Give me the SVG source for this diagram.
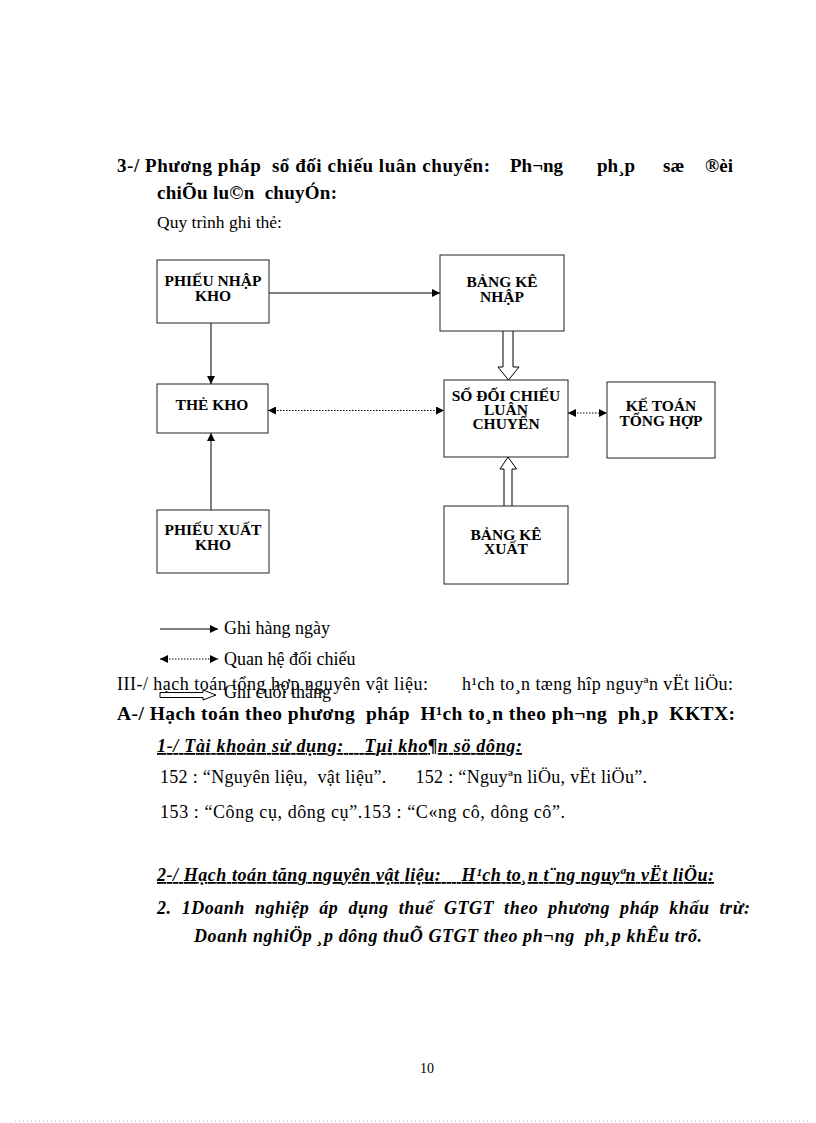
<svg xmlns="http://www.w3.org/2000/svg" width="816" height="1123" viewBox="0 0 816 1123">
<defs>
<style>
.b{font-family:"Liberation Serif","Times New Roman",serif;font-weight:bold;font-size:18px;fill:#000}
.h{font-size:19px}
.r{font-family:"Liberation Serif","Times New Roman",serif;font-size:18px;fill:#000}
.bi{font-family:"Liberation Serif","Times New Roman",serif;font-weight:bold;font-style:italic;font-size:18px;fill:#000}
.u{text-decoration:underline}
.node rect{fill:#fff;stroke:#222;stroke-width:1}
.node text{font-family:"Liberation Serif","Times New Roman",serif;font-weight:bold;font-size:15.5px;fill:#000;text-anchor:middle}
.solid{stroke:#000;stroke-width:1;fill:none}
.dot{stroke:#000;stroke-width:1;fill:none;stroke-dasharray:1.5 1.5}
.hollow{fill:#fff;stroke:#000;stroke-width:1}
</style>
<marker id="ah" viewBox="0 0 10 10" refX="10" refY="5" markerWidth="8" markerHeight="8" markerUnits="userSpaceOnUse" orient="auto">
<path d="M0,0 L10,5 L0,10 z" fill="#000"/>
</marker>
<marker id="ahs" viewBox="0 0 10 10" refX="0" refY="5" markerWidth="8" markerHeight="8" markerUnits="userSpaceOnUse" orient="auto">
<path d="M10,0 L0,5 L10,10 z" fill="#000"/>
</marker>
</defs>
<rect width="816" height="1123" fill="#fff"/>

<g id="header">
<text class="b h" x="117" y="172" style="white-space:pre" textLength="373" lengthAdjust="spacing">3-/ Phương pháp  sổ đối chiếu luân chuyển:</text>
<text class="b h" x="510" y="172">Ph¬ng</text>
<text class="b h" x="597" y="172">ph¸p</text>
<text class="b h" x="663" y="172">sæ</text>
<text class="b h" x="705" y="172">®èi</text>
<text class="b h" x="157" y="199" style="white-space:pre" textLength="180" lengthAdjust="spacing">chiÕu lu©n  chuyÓn:</text>
<text class="r" x="157" y="228" style="font-size:17.5px">Quy trình ghi thẻ:</text>
</g>

<g id="connectors">
<line class="solid" x1="269" y1="293" x2="440" y2="293" marker-end="url(#ah)"/>
<line class="solid" x1="211" y1="323" x2="211" y2="384" marker-end="url(#ah)"/>
<line class="solid" x1="211" y1="510" x2="211" y2="433" marker-end="url(#ah)"/>
<line class="dot" x1="268" y1="410.5" x2="444" y2="410.5" marker-start="url(#ahs)" marker-end="url(#ah)"/>
<line class="dot" x1="568" y1="413" x2="607" y2="413" marker-start="url(#ahs)" marker-end="url(#ah)"/>
<path class="hollow" d="M503,331 L503,367 L498,367 L508.5,380 L519,367 L513,367 L513,331"/>
<path class="hollow" d="M504,506 L504,469 L500,469 L508,457 L516.5,469 L512,469 L512,506"/>
</g>

<g id="n-phieunhap" class="node">
<rect x="157" y="260" width="112" height="63"/>
<text x="213" y="286">PHIẾU NHẬP</text>
<text x="213" y="300.5">KHO</text>
</g>
<g id="n-bangkenhap" class="node">
<rect x="440" y="255" width="124" height="76"/>
<text x="502" y="287">BẢNG KÊ</text>
<text x="502" y="301.5">NHẬP</text>
</g>
<g id="n-thekho" class="node">
<rect x="157" y="384" width="111" height="49"/>
<text x="212" y="410">THẺ KHO</text>
</g>
<g id="n-sodoichieu" class="node">
<rect x="444" y="380" width="124" height="77"/>
<text x="506" y="401">SỔ ĐỐI CHIẾU</text>
<text x="506" y="415">LUÂN</text>
<text x="506" y="429">CHUYỂN</text>
</g>
<g id="n-ketoan" class="node">
<rect x="607" y="382" width="108" height="76"/>
<text x="661" y="411">KẾ TOÁN</text>
<text x="661" y="426">TỔNG HỢP</text>
</g>
<g id="n-phieuxuat" class="node">
<rect x="157" y="510" width="112" height="63"/>
<text x="213" y="535">PHIẾU XUẤT</text>
<text x="213" y="549.5">KHO</text>
</g>
<g id="n-bangkexuat" class="node">
<rect x="444" y="506" width="124" height="78"/>
<text x="506" y="540">BẢNG KÊ</text>
<text x="506" y="554">XUẤT</text>
</g>

<g id="legend">
<line class="solid" x1="160" y1="629" x2="218" y2="629" marker-end="url(#ah)"/>
<text class="r" x="224" y="634">Ghi hàng ngày</text>
<line class="dot" x1="160" y1="659" x2="218" y2="659" marker-start="url(#ahs)" marker-end="url(#ah)"/>
<text class="r" x="224" y="665">Quan hệ đối chiếu</text>
<path class="hollow" d="M160,692.5 L203,692.5 L203,690 L216,695 L203,700 L203,697.5 L160,697.5 z"/>
<text class="r" x="224" y="698">Ghi cuối tháng</text>
</g>

<g id="body">
<text class="r" x="117" y="690" textLength="311" lengthAdjust="spacing">III-/ hạch toán tổng hợp nguyên vật liệu:</text>
<text class="r" x="462" y="690" textLength="271" lengthAdjust="spacing">h¹ch to¸n tæng hîp nguyªn vËt liÖu:</text>
<text class="b" x="117" y="720" style="font-size:19.5px;white-space:pre" textLength="618" lengthAdjust="spacing">A-/ Hạch toán theo phương  pháp  H¹ch to¸n theo ph¬ng  ph¸p  KKTX:</text>
<text class="bi u" x="157" y="752" style="white-space:pre" textLength="365" lengthAdjust="spacing">1-/ Tài khoản sử dụng:    Tµi kho¶n sö dông:</text>
<text class="r" x="160" y="783" style="white-space:pre" textLength="487" lengthAdjust="spacing">152 : “Nguyên liệu,  vật liệu”.      152 : “Nguyªn liÖu, vËt liÖu”.</text>
<text class="r" x="160" y="818" textLength="405" lengthAdjust="spacing">153 : “Công cụ, dông cụ”.153 : “C«ng cô, dông cô”.</text>
<text class="bi u" x="157" y="881" style="white-space:pre" textLength="557" lengthAdjust="spacing">2-/ Hạch toán tăng nguyên vật liệu:    H¹ch to¸n t¨ng nguyªn vËt liÖu:</text>
<text class="bi" x="157" y="914" style="white-space:pre" textLength="593" lengthAdjust="spacing">2.  1Doanh  nghiệp  áp  dụng  thuế  GTGT  theo  phương  pháp  khấu  trừ:</text>
<text class="bi" x="194" y="942" style="white-space:pre" textLength="508" lengthAdjust="spacing">Doanh nghiÖp ¸p dông thuÕ GTGT theo ph¬ng  ph¸p khÊu trõ.</text>
</g>

<g id="footer">
<text class="r" x="427" y="1073" style="font-size:14px" text-anchor="middle">10</text>
<line x1="15" y1="1121" x2="810" y2="1121" stroke="#bbb" stroke-width="1" stroke-dasharray="1 3"/>
</g>
</svg>
